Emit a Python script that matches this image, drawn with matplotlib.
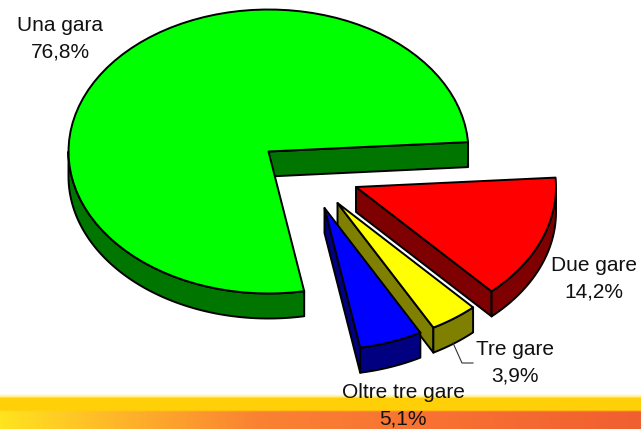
import numpy as np
import matplotlib.pyplot as plt
from matplotlib.patches import Polygon

plt.rcParams['font.family'] = ['Liberation Sans', 'DejaVu Sans']

labels = ['Una gara', 'Due gare', 'Tre gare', 'Oltre tre gare']
values = [76.8, 14.2, 3.9, 5.1]

top_colors = ['#00ff00', '#ff0000', '#ffff00', '#0000ff']
side_colors = ['#007500', '#7f0000', '#808000', '#000080']

# pixel position of each slice's apex, and of each label
centers = [(268.5, 151.5), (356, 187), (337.5, 203), (324.5, 208)]
label_pos = [(60, 38.5), (594, 279), (515, 363), (403, 406)]

rx, ry = 200, 142
depth = 25
start = 3.8  # where the first slice begins, going counter clockwise


def rim(c, a, b):
    t = np.radians(np.linspace(a, b, 80))
    return np.column_stack([c[0] + rx * np.cos(t), c[1] - ry * np.sin(t)])


def draw(ax, xy, color, z):
    ax.add_patch(Polygon(xy, closed=True, fc=color, ec='black', lw=1.4, joinstyle='round', zorder=z))


fig = plt.figure(figsize=(6.41, 4.29), dpi=100)
ax = fig.add_axes([0, 0, 1, 1])
ax.axis('off')

# background strip at the bottom
h, w = 32, 641
xs = np.linspace(0, 1, w)
low = np.column_stack([np.interp(xs, [0, .15, .4, .7, 1], [255, 255, 250, 248, 240]),
                       np.interp(xs, [0, .15, .4, .7, 1], [228, 190, 130, 112, 95]),
                       np.interp(xs, [0, .15, .4, .7, 1], [30, 40, 50, 50, 48])])
up = np.tile([255, 208, 8], (w, 1))
ramp = np.clip((np.arange(h) - 12.5) / 2.0, 0, 1)[:, None, None]
strip = up[None, :, :] * (1 - ramp) + low[None, :, :] * ramp
ax.imshow(strip / 255, extent=[0, 641, 429, 397], aspect='auto', zorder=1)
fade = np.ones((5, 1, 4))
fade[:, :, :3] = [1, 0.9, 0.3]
fade[:, 0, 3] = [0, .15, .35, .6, .85]
ax.imshow(fade, extent=[0, 641, 398, 393], aspect='auto', zorder=1)
ax.set_xlim(0, 641)
ax.set_ylim(429, 0)

# slices go round from the start angle: first one counter clockwise, the others clockwise
angles = np.array(values) * 3.6
bounds = [(start, start + angles[0])]
a = start
for v in angles[1:]:
    bounds.append((a - v, a))
    a -= v

down = np.array([0, depth])
for i, (c, (a0, a1)) in enumerate(zip(centers, bounds)):
    z = 2 + i * 2
    c = np.array(c)
    # cut face, then the front rim
    p = rim(c, a0, a0)[0]
    draw(ax, [c, p, p + down, c + down], side_colors[i], z)
    if i == 0:
        r = rim(c, 180, a1)
    else:
        r = rim(c, a0, min(a1, 0))
    draw(ax, np.vstack([r, (r + down)[::-1]]), side_colors[i], z)
    draw(ax, np.vstack([[c], rim(c, a0, a1)]), top_colors[i], z + 1)

# leader line of the Tre gare label
ax.plot([453, 462, 473], [343, 363, 363], color='#333333', lw=0.8, zorder=12)

for name, v, (x, y) in zip(labels, values, label_pos):
    txt = name + '\n' + ('%.1f%%' % v).replace('.', ',')
    ax.text(x, y, txt, ha='center', va='center', fontsize=15, linespacing=1.5, color='#111111', zorder=13)

fig.savefig('out.png', dpi=100)
